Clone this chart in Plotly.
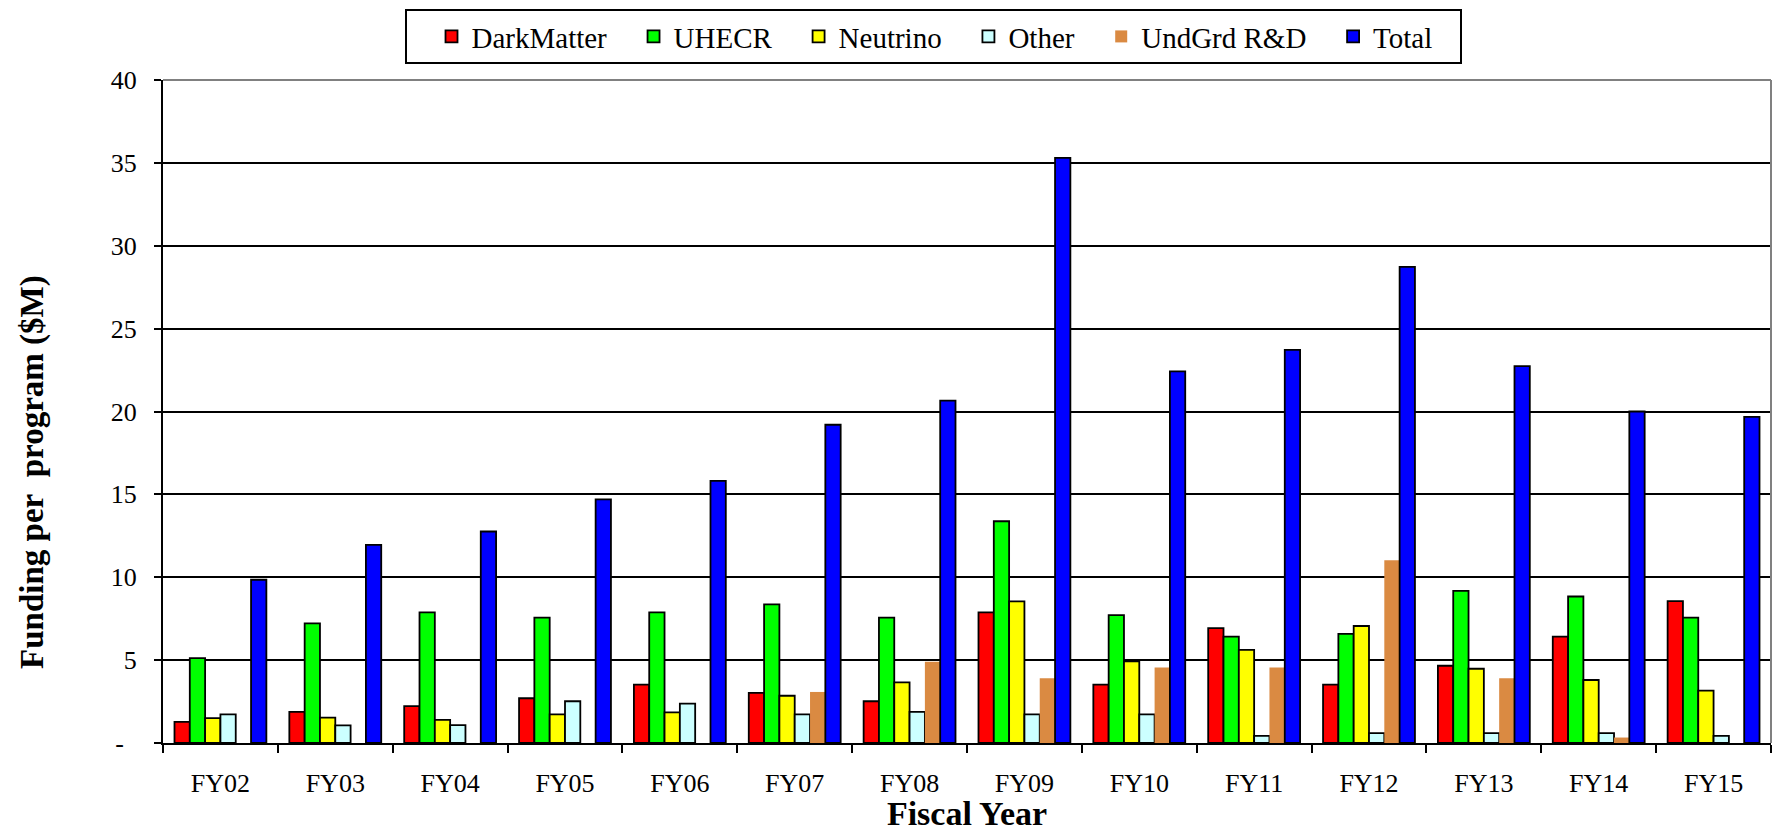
import plotly.graph_objects as go

# Fiscal years on the category axis
years = ["FY02", "FY03", "FY04", "FY05", "FY06", "FY07", "FY08",
         "FY09", "FY10", "FY11", "FY12", "FY13", "FY14", "FY15"]

# Funding per program, $M
dark_matter = [1.28, 1.88, 2.22, 2.70, 3.52, 3.02, 2.52, 7.88, 3.52, 6.93, 3.52, 4.66, 6.42, 8.56]
uhecr = [5.12, 7.22, 7.88, 7.56, 7.88, 8.36, 7.56, 13.38, 7.72, 6.42, 6.58, 9.18, 8.84, 7.56]
neutrino = [1.50, 1.53, 1.40, 1.73, 1.85, 2.85, 3.66, 8.54, 4.92, 5.62, 7.06, 4.48, 3.80, 3.16]
other = [1.73, 1.06, 1.08, 2.52, 2.38, 1.73, 1.88, 1.73, 1.73, 0.43, 0.60, 0.60, 0.60, 0.43]
undgrd_rd = [None, None, None, None, None, 3.08, 4.90, 3.90, 4.55, 4.55, 11.02, 3.90, 0.33, None]
total = [9.85, 11.95, 12.76, 14.70, 15.82, 19.20, 20.66, 35.30, 22.42, 23.72, 28.72, 22.74, 20.00, 19.68]

y_ticks = [0, 5, 10, 15, 20, 25, 30, 35, 40]
y_tick_text = ["-\u00a0\u00a0", "5", "10", "15", "20", "25", "30", "35", "40"]

series = [
    ("DarkMatter", dark_matter, "#FF0000", 1.8),
    ("UHECR", uhecr, "#00FF00", 1.8),
    ("Neutrino", neutrino, "#FFFF00", 1.8),
    ("Other", other, "#CCFFFF", 1.8),
    ("UndGrd R&D", undgrd_rd, "#DA8A42", 0),
    ("Total", total, "#0000FF", 1.8),
]

SERIF = "Liberation Serif, Times New Roman, serif"
# extra breathing room after each legend label
LEGEND_PAD = "\u00a0" * 3

fig = go.Figure()
for name, vals, color, lw in series:
    fig.add_trace(go.Bar(
        x=years, y=vals, name=name + LEGEND_PAD,
        marker=dict(color=color, line=dict(color="black", width=lw)),
    ))

fig.update_layout(
    width=1774, height=832,
    margin=dict(l=163, r=3, t=80, b=89),
    paper_bgcolor="white", plot_bgcolor="white",
    barmode="group", bargap=0.2, bargroupgap=0,
    font=dict(family=SERIF, color="black", size=25),
    showlegend=True,
    legend=dict(
        orientation="h",
        x=0.1505, xanchor="left",
        y=1.107, yanchor="top",
        font=dict(family=SERIF, size=29, color="black"),
        # blank lead-in so the first swatch sits in from the frame
        title=dict(text="\u00a0\u00a0", side="left",
                   font=dict(family=SERIF, size=29, color="black")),
        bordercolor="black", borderwidth=2,
        bgcolor="white",
        traceorder="normal",
    ),
    xaxis=dict(
        showline=True, linecolor="black", linewidth=2,
        ticks="outside", tickson="boundaries", ticklen=8,
        tickwidth=2, tickcolor="black",
        showgrid=False,
        tickfont=dict(family=SERIF, size=26, color="black"),
        ticklabelstandoff=16,
        title=dict(text="<b>Fiscal Year</b>", standoff=6,
                   font=dict(family=SERIF, size=34, color="black")),
    ),
    yaxis=dict(
        range=[0, 40],
        tickvals=y_ticks, ticktext=y_tick_text,
        showline=True, linecolor="black", linewidth=2,
        ticks="outside", ticklen=7, tickwidth=2, tickcolor="black",
        showgrid=True, gridcolor="black", gridwidth=2,
        zeroline=False,
        tickfont=dict(family=SERIF, size=26, color="black"),
        ticklabelstandoff=12,
    ),
    annotations=[
        # vertical axis title, sitting a little below the axis midpoint
        dict(text="<b>Funding per\u00a0 program ($M)</b>", textangle=-90,
             xref="paper", yref="paper", x=-0.0808, y=0.409,
             xanchor="center", yanchor="middle", showarrow=False,
             font=dict(family=SERIF, size=33, color="black")),
    ],
    shapes=[
        # grey frame on the top and right edges of the plotting area
        dict(type="line", xref="paper", yref="paper", x0=0, x1=1, y0=1, y1=1,
             line=dict(color="#808080", width=2), layer="above"),
        dict(type="line", xref="paper", yref="paper", x0=1, x1=1, y0=0, y1=1,
             line=dict(color="#808080", width=2), layer="above"),
    ],
)

fig.write_html("out.html")
